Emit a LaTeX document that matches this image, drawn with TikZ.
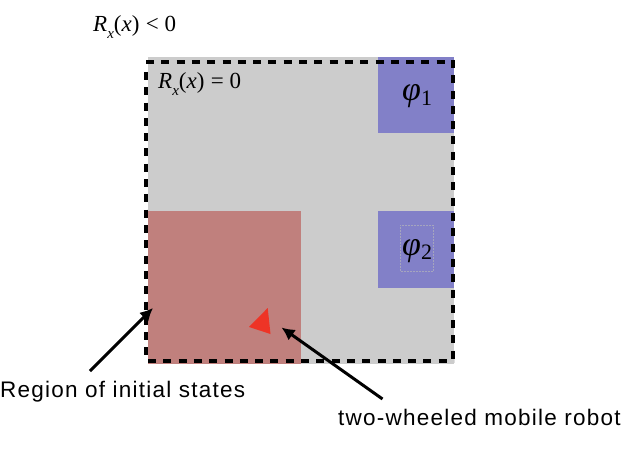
\documentclass[tikz,border=0pt]{standalone}
\usepackage{fontspec}
\setmainfont{Liberation Sans}
\newfontfamily\mathser{Liberation Serif}
\newfontfamily\spacedsans[LetterSpace=5.5]{Liberation Sans}
\usetikzlibrary{arrows.meta}
\definecolor{graybg}{RGB}{204,204,204}
\definecolor{bluereg}{RGB}{130,128,200}
\definecolor{redreg}{RGB}{192,128,125}
\definecolor{robotred}{RGB}{238,52,38}
\definecolor{dotbox}{RGB}{165,165,190}
\newcommand{\Rx}{{\mathser\itshape R}\raisebox{-0.28em}{\mathser\itshape\fontsize{15}{15}\selectfont x}{\mathser(\itshape x\/\upshape)}}
\tikzset{
  x=1pt,y=-1pt,
  region/.style={draw=none,anchor=north west,inner sep=0pt,outer sep=0pt},
  boundary/.style={draw=black,line width=4pt,dash pattern=on 8pt off 7.3pt},
  callout/.style={draw=black,line width=3pt,-{Latex[length=13pt,width=13pt]}},
  sanslabel/.style={inner sep=0pt,font=\spacedsans\fontsize{22.5}{24}\selectfont,anchor=base west},
  mathlabel/.style={inner sep=0pt,font=\fontsize{23}{26}\selectfont,anchor=base west},
  goallabel/.style={inner sep=0pt,font=\fontsize{34}{36}\selectfont,anchor=base west},
}
\begin{document}
\begin{tikzpicture}
\useasboundingbox (0,0) rectangle (622,452);
\node[region,fill=graybg,minimum width=306pt,minimum height=307pt] (world) at (148,57) {};
\node[region,fill=bluereg,minimum width=76.5pt,minimum height=76pt] (goalone) at (377.5,57.5) {};
\node[region,fill=bluereg,minimum width=76.5pt,minimum height=76.5pt] (goaltwo) at (377.5,211) {};
\node[region,fill=redreg,minimum width=153pt,minimum height=153pt] (init) at (148,211) {};
\draw[dotbox,line width=0.5pt,densely dotted] (400,225) rectangle (433,271);
\draw[boundary] (146,62) -- (454,62);
\draw[boundary] (453,60) -- (453,364);
\draw[boundary] (148,361) -- (454,361);
\draw[boundary] (146,72) -- (146,358);
\node[mathlabel] (outer) at (93,32) {\Rx{} {\mathser< 0}};
\node[mathlabel] (inner) at (158,89) {\Rx{} {\mathser= 0}};
\node[goallabel] (phione) at (402,101) {{\mathser\itshape φ}\raisebox{-0.14em}{\mathser\fontsize{22}{22}\selectfont 1}};
\node[goallabel] (phitwo) at (402,255) {{\mathser\itshape φ}\raisebox{-0.14em}{\mathser\fontsize{22}{22}\selectfont 2}};
\fill[robotred] (267.7,308) -- (249,327) -- (270.5,334) -- cycle;
\coordinate (robot) at (281.5,327.5);
\coordinate (initpt) at (153,308);
\node[sanslabel] (initlabel) at (0,397) {Region of initial states};
\node[sanslabel] (robotlabel) at (338,425) {two-wheeled mobile robot};
\coordinate (initstart) at (90,371);
\coordinate (robotstart) at (382.5,399);
\draw[callout] (initstart) -- (initpt);
\draw[callout] (robotstart) -- (robot);
\end{tikzpicture}
\end{document}
